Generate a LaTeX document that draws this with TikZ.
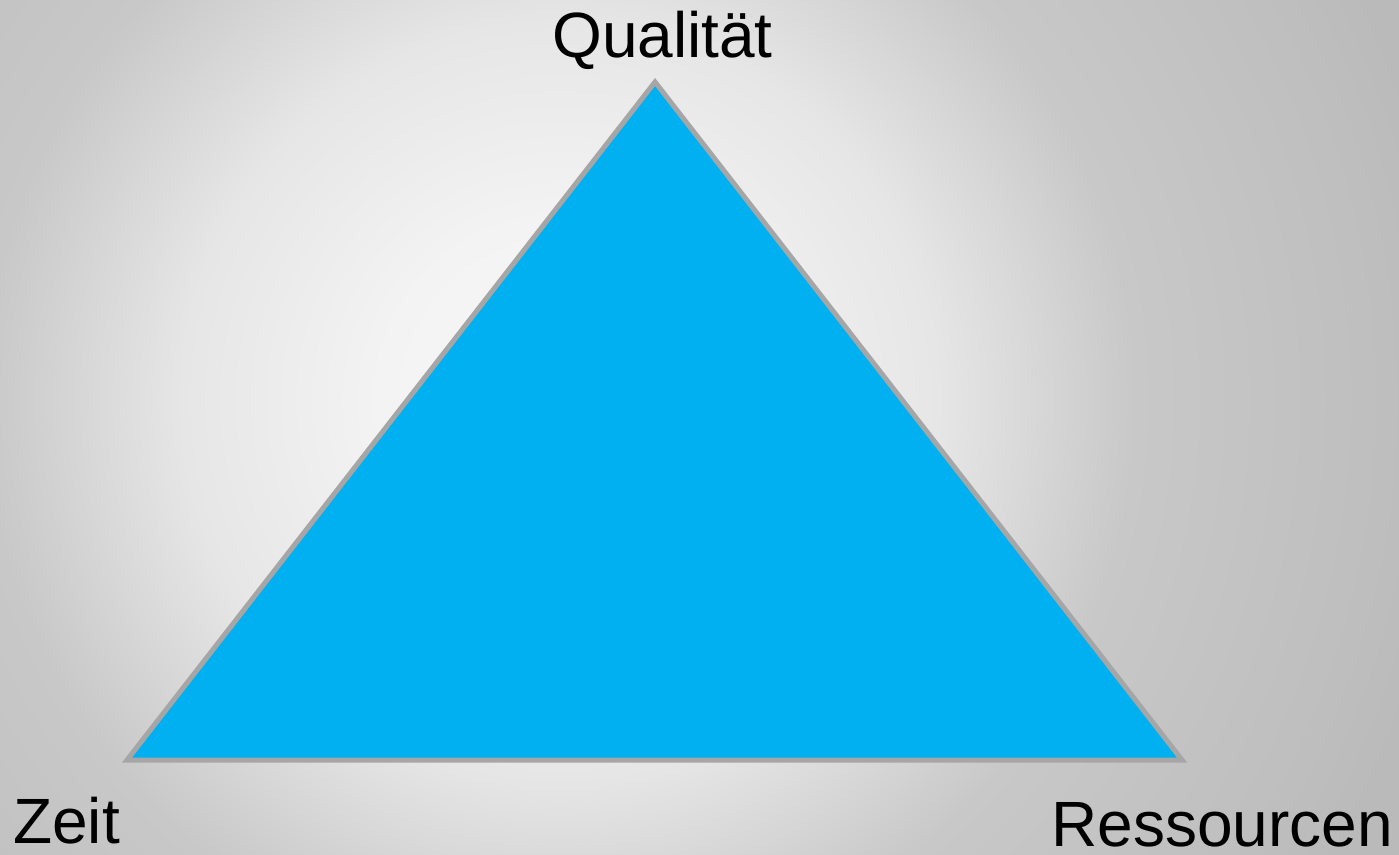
\documentclass[tikz,border=0pt]{standalone}
\usepackage{fontspec}
\setmainfont{Liberation Sans}
\definecolor{triFill}{HTML}{00B0F0}
\definecolor{triLine}{HTML}{A6A6A6}
\definecolor{bgA}{HTML}{F8F8F8}
\definecolor{bgB}{HTML}{F3F3F3}
\definecolor{bgC}{HTML}{E6E6E6}
\definecolor{bgD}{HTML}{C8C8C8}
\definecolor{bgE}{HTML}{BEBEBE}
\definecolor{bgF}{HTML}{BABABA}
\pgfdeclareradialshading{bgshade}{\pgfpoint{0bp}{0bp}}{color(0bp)=(bgA); color(5bp)=(bgB); color(10.5bp)=(bgC); color(16bp)=(bgD); color(23bp)=(bgE); color(25bp)=(bgF); color(50bp)=(bgF)}
\tikzset{
  lbl/.style={inner sep=0pt, anchor=base west, font=\fontsize{64}{77}\selectfont, text=black},
  tri/.style={fill=triFill, draw=triLine, line width=5pt, line join=miter}
}
\begin{document}
\begin{tikzpicture}[x=1pt,y=-1pt]
\useasboundingbox (0,0) rectangle (1399,854);
\begin{scope}
\clip (0,0) rectangle (1399,854);
\shade[shading=bgshade] (-340,-500) rectangle (1460,1300);
\end{scope}
\coordinate (top) at (655,82);
\coordinate (bl) at (127,760);
\coordinate (br) at (1182,760);
\draw[tri] (top) -- (br) -- (bl) -- cycle;
\node[lbl] (qual) at (552,57) {Qualität};
\node[lbl] (zeit) at (13,843) {Zeit};
\node[lbl] (res) at (1051,846) {Ressourcen};
\end{tikzpicture}
\end{document}
